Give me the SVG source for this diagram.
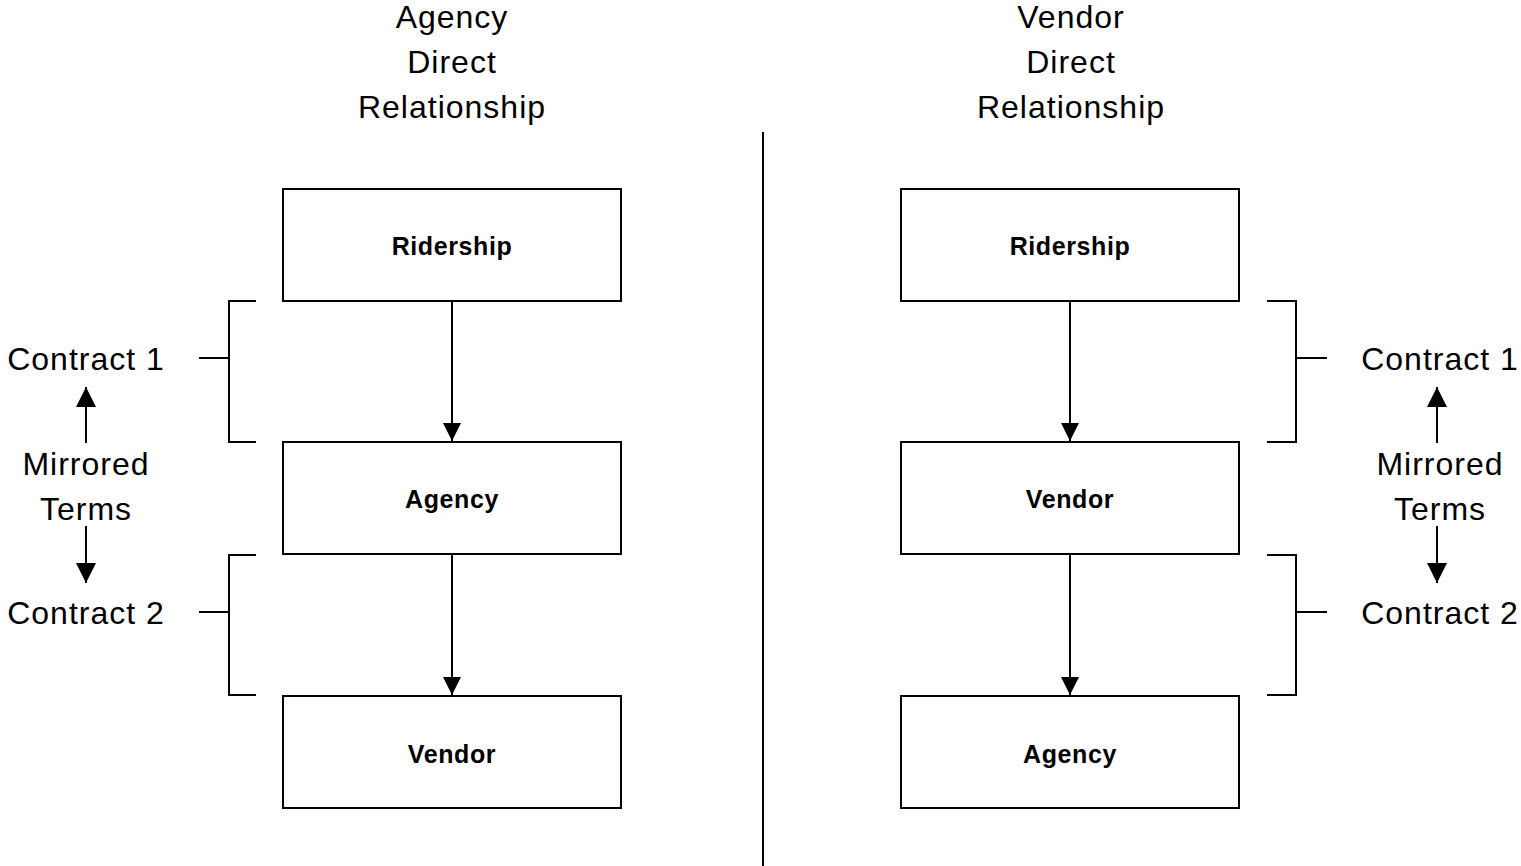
<svg xmlns="http://www.w3.org/2000/svg" width="1521" height="866" viewBox="0 0 1521 866">
<style>
.box{fill:#fff;stroke:#000;stroke-width:2}
.ln{fill:none;stroke:#000;stroke-width:2}
.t{font-family:"Liberation Sans",Arial,sans-serif;font-size:32px;letter-spacing:1px;text-anchor:middle;fill:#000}
.b{font-family:"Liberation Sans",Arial,sans-serif;font-size:25px;font-weight:bold;letter-spacing:0.6px;text-anchor:middle;fill:#000}
</style>
<defs>
<marker id="ah" viewBox="0 0 10 10" refX="10" refY="5" markerWidth="18" markerHeight="18" markerUnits="userSpaceOnUse" orient="auto">
<path d="M0,0 L10,5 L0,10 z" fill="#000"/>
</marker>
<marker id="ah2" viewBox="0 0 10 10" refX="10" refY="5" markerWidth="20" markerHeight="20" markerUnits="userSpaceOnUse" orient="auto">
<path d="M0,0 L10,5 L0,10 z" fill="#000"/>
</marker>
</defs>
<g id="titles">
<text class="t" x="452" y="28">Agency</text>
<text class="t" x="452" y="73">Direct</text>
<text class="t" x="452" y="118">Relationship</text>
<text class="t" x="1071" y="28">Vendor</text>
<text class="t" x="1071" y="73">Direct</text>
<text class="t" x="1071" y="118">Relationship</text>
</g>
<g id="divider"><line class="ln" x1="763" y1="132" x2="763" y2="866"/></g>
<g id="l-ridership"><rect class="box" x="283" y="189" width="338" height="112"/><text class="b" x="452" y="255">Ridership</text></g>
<g id="l-agency"><rect class="box" x="283" y="442" width="338" height="112"/><text class="b" x="452" y="508">Agency</text></g>
<g id="l-vendor"><rect class="box" x="283" y="696" width="338" height="112"/><text class="b" x="452" y="763">Vendor</text></g>
<g id="r-ridership"><rect class="box" x="901" y="189" width="338" height="112"/><text class="b" x="1070" y="255">Ridership</text></g>
<g id="r-vendor"><rect class="box" x="901" y="442" width="338" height="112"/><text class="b" x="1070" y="508">Vendor</text></g>
<g id="r-agency"><rect class="box" x="901" y="696" width="338" height="112"/><text class="b" x="1070" y="763">Agency</text></g>
<g id="l-labels">
<text class="t" x="86" y="370">Contract 1</text>
<text class="t" x="86" y="475">Mirrored</text>
<text class="t" x="86" y="520">Terms</text>
<text class="t" x="86" y="624">Contract 2</text>
</g>
<g id="r-labels">
<text class="t" x="1440" y="370">Contract 1</text>
<text class="t" x="1440" y="475">Mirrored</text>
<text class="t" x="1440" y="520">Terms</text>
<text class="t" x="1440" y="624">Contract 2</text>
</g>
<g id="connectors">
<line class="ln" x1="452" y1="301" x2="452" y2="441" marker-end="url(#ah)"/>
<line class="ln" x1="452" y1="554" x2="452" y2="695" marker-end="url(#ah)"/>
<line class="ln" x1="1070" y1="301" x2="1070" y2="441" marker-end="url(#ah)"/>
<line class="ln" x1="1070" y1="554" x2="1070" y2="695" marker-end="url(#ah)"/>
<line class="ln" x1="86" y1="443" x2="86" y2="387" marker-end="url(#ah2)"/>
<line class="ln" x1="86" y1="526" x2="86" y2="583" marker-end="url(#ah2)"/>
<line class="ln" x1="1437" y1="443" x2="1437" y2="387" marker-end="url(#ah2)"/>
<line class="ln" x1="1437" y1="526" x2="1437" y2="583" marker-end="url(#ah2)"/>
<path class="ln" d="M256,301 H229 V442 H256 M199,358 H229"/>
<path class="ln" d="M256,555 H229 V695 H256 M199,612 H229"/>
<path class="ln" d="M1267,301 H1296 V442 H1267 M1296,358 H1327"/>
<path class="ln" d="M1267,555 H1296 V695 H1267 M1296,612 H1327"/>
</g>
</svg>
